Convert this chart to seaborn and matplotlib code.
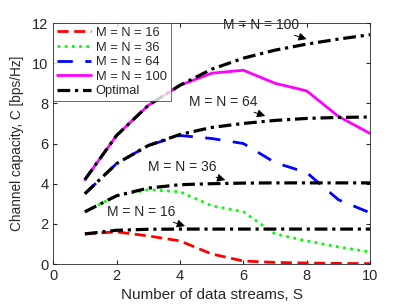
import numpy as np
import pandas as pd
import matplotlib
matplotlib.use('Agg')
import matplotlib.pyplot as plt
import seaborn as sns

# data
streams = [1, 2, 3, 4, 5, 6, 7, 8, 9, 10]
cap_16 = [1.5, 1.6, 1.4, 1.15, 0.5, 0.15, 0.08, 0.05, 0.03, 0.02]
cap_36 = [2.6, 3.4, 3.7, 3.6, 2.9, 2.6, 1.5, 1.15, 0.85, 0.6]
cap_64 = [3.5, 5.0, 5.9, 6.4, 6.25, 6.0, 5.05, 4.55, 3.2, 2.55]
cap_100 = [4.2, 6.4, 7.9, 8.9, 9.5, 9.65, 9.0, 8.62, 7.35, 6.5]
opt_16 = [1.5, 1.68, 1.73, 1.74, 1.74, 1.74, 1.74, 1.74, 1.74, 1.74]
opt_36 = [2.6, 3.4, 3.78, 3.95, 4.0, 4.03, 4.04, 4.04, 4.04, 4.04]
opt_64 = [3.5, 5.0, 5.9, 6.45, 6.8, 7.0, 7.15, 7.25, 7.3, 7.32]
opt_100 = [4.2, 6.4, 7.9, 8.9, 9.7, 10.25, 10.65, 10.95, 11.2, 11.42]

labels = ['M = N = 16', 'M = N = 36', 'M = N = 64', 'M = N = 100']
colors = ['#ff0000', '#00ff00', '#0000ff', '#ff00ff']
styles = [(0, (4, 2)), (0, (1, 1.6)), (0, (5.5, 4.5)), '-']

sns.set_style('ticks')
plt.rcParams['font.family'] = ['Liberation Sans', 'DejaVu Sans']

fig = plt.figure(figsize=(4.09, 3.07), dpi=100)
ax = fig.add_axes([0.130, 0.140, 0.775, 0.785])

for vals, lab, col, ls in zip([cap_16, cap_36, cap_64, cap_100], labels, colors, styles):
    sns.lineplot(x=streams, y=vals, ax=ax, color=col, linestyle=ls, lw=2, label=lab)

for i, vals in enumerate([opt_16, opt_36, opt_64, opt_100]):
    sns.lineplot(x=streams, y=vals, ax=ax, color='black', linestyle=(0, (4, 1.5, 1, 1.5)),
                 lw=2.3, label='Optimal' if i == 0 else None)

ax.set_xlim(0, 10)
ax.set_ylim(0, 12)
ax.set_xticks([0, 2, 4, 6, 8, 10])
ax.set_yticks([0, 2, 4, 6, 8, 10, 12])
ax.tick_params(direction='in', top=True, right=True, labelsize=10.5, colors='#262626', length=3)
for s in ax.spines.values():
    s.set_visible(True)
    s.set_color('#262626')
    s.set_linewidth(0.6)
ax.set_xlabel('Number of data streams, S', fontsize=11, color='#262626')
ax.set_ylabel('Channel capacity, C [bps/Hz]', fontsize=9.8, color='#262626', labelpad=6)

# annotations
notes = [('M = N = 100', (6.55, 11.9), (8.0, 11.2)),
         ('M = N = 64', (5.38, 8.07), (6.69, 7.37)),
         ('M = N = 36', (4.07, 4.83), (5.43, 4.18)),
         ('M = N = 16', (2.79, 2.59), (4.16, 1.89))]
for txt, xyt, xy in notes:
    ax.annotate(txt, xy=xy, xytext=xyt, ha='center', va='center', fontsize=10,
                arrowprops=dict(arrowstyle='-|>', color='black', lw=0.7,
                                mutation_scale=12, shrinkA=0, shrinkB=0))

leg = ax.legend(loc='upper left', fontsize=9.3, frameon=True, fancybox=False,
                borderaxespad=0, handlelength=2.6, borderpad=0.3,
                labelspacing=0.2, handletextpad=0.4)
leg.get_frame().set_edgecolor('#262626')
leg.get_frame().set_linewidth(0.6)

fig.savefig('out.png', dpi=100)
